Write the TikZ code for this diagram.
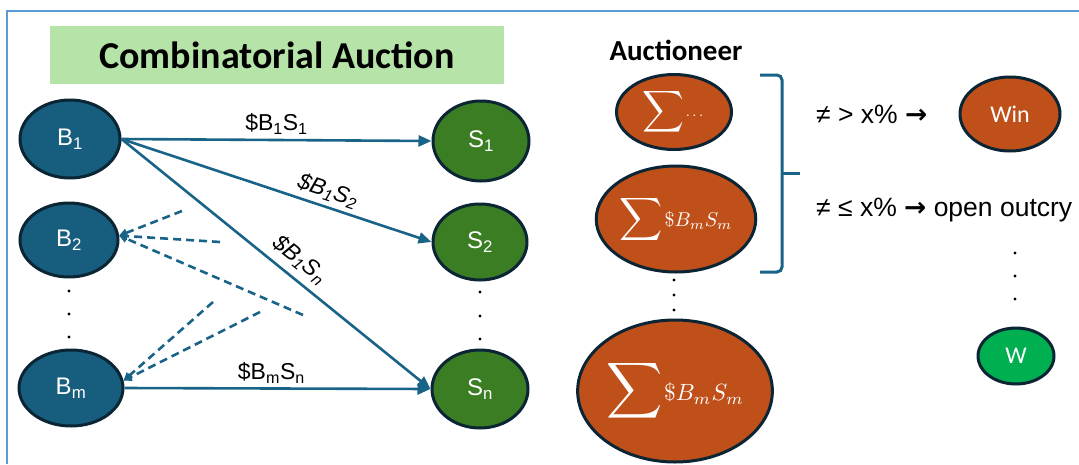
\documentclass[tikz,border=0pt]{standalone}
\usepackage{amsmath}
\usepackage{graphicx}
\usepackage[no-math]{fontspec}
\setmainfont{Liberation Sans}
\newfontfamily\calfont{Carlito}
\newfontfamily\arrfont{DejaVu Sans}
\usetikzlibrary{shapes.geometric,arrows.meta}
\definecolor{bblue}{HTML}{165D7E}
\definecolor{sgreen}{HTML}{3B7D23}
\definecolor{aorange}{HTML}{C0501A}
\definecolor{wgreen}{HTML}{00B050}
\definecolor{outl}{HTML}{0B2535}
\definecolor{acol}{HTML}{1A6388}
\definecolor{titlegreen}{HTML}{B5E3A8}
\definecolor{framecol}{HTML}{5B9BD5}
\newcommand{\sbx}[1]{\textsubscript{#1}}
\newcommand{\bsig}[1]{\scalebox{#1}{$\displaystyle\sum$}}
\newcommand{\bmath}[2]{\scalebox{#1}{$#2$}}
\newcommand{\rarr}{{\arrfont\bfseries →}}
\begin{document}
\begin{tikzpicture}[x=1pt,y=-1pt,
  oval/.style={ellipse, draw=outl, line width=3pt, inner sep=0pt, text=white},
  bnode/.style={oval, fill=bblue, font=\fontsize{24}{28}\selectfont},
  snode/.style={oval, fill=sgreen, font=\fontsize{24}{28}\selectfont},
  anode/.style={oval, fill=aorange},
  wnode/.style={oval, fill=wgreen, font=\calfont\fontsize{24}{28}\selectfont},
  conn/.style={draw=acol, line width=2.6pt, -{Triangle[length=13pt,width=11pt]}},
  dconn/.style={draw=acol, line width=2.6pt, dash pattern=on 8pt off 5pt, -{Triangle[length=8pt,width=8pt]}},
  elab/.style={font=\fontsize{23}{26}\selectfont, text=black, inner sep=3pt},
  ilab/.style={elab, font=\fontsize{23}{26}\selectfont\itshape},
  vdot/.style={circle, fill=black, minimum size=3.4pt, inner sep=0pt},
  cond/.style={font=\fontsize{26.5}{30}\selectfont, text=black, inner sep=0pt, anchor=west},
  brk/.style={draw=acol, line width=3pt, rounded corners=5pt},
  framel/.style={draw=framecol, line width=2pt}
]
\useasboundingbox (0,0) rectangle (1079,464);
% frame
\draw[framel] (7,464) -- (7,11) -- (1079,11);
% title
\node[fill=titlegreen, minimum width=454pt, minimum height=58pt, inner sep=0pt,
      font=\calfont\bfseries\fontsize{38}{44}\selectfont] (title) at (277,55) {Combinatorial Auction};
% buyers
\node[bnode, minimum width=100pt, minimum height=78pt] (B1) at (70,139) {B\sbx{1}};
\node[bnode, minimum width=98pt, minimum height=74pt] (B2) at (69,240) {B\sbx{2}};
\node[bnode, minimum width=104pt, minimum height=76pt] (Bm) at (71,388) {B\sbx{m}};
% sellers
\node[snode, minimum width=96pt, minimum height=80pt] (S1) at (481,141) {S\sbx{1}};
\node[snode, minimum width=94pt, minimum height=76pt] (S2) at (480,242) {S\sbx{2}};
\node[snode, minimum width=96pt, minimum height=78pt] (Sn) at (480,389) {S\sbx{n}};
% dots
\node[vdot] (bd1) at (69,291) {};
\node[vdot] (bd2) at (69,314) {};
\node[vdot] (bd3) at (69,337) {};
\node[vdot] (sd1) at (480,292) {};
\node[vdot] (sd2) at (480,316) {};
\node[vdot] (sd3) at (480,339) {};
% solid arrows
\draw[conn] (B1.east) -- node[elab, above=1pt, pos=0.5] {\$B\sbx{1}S\sbx{1}} (S1.west);
\draw[conn] (B1.east) -- node[ilab, sloped, above=1pt, pos=0.65] {\$B\sbx{1}S\sbx{2}} (S2.west);
\draw[conn] (B1.east) -- node[ilab, sloped, above=4pt, pos=0.54] {\$B\sbx{1}S\sbx{n}} (Sn.west);
\draw[conn] (Bm.east) -- node[elab, above=1pt, pos=0.48] {\$B\sbx{m}S\sbx{n}} (Sn.west);
% dashed arrows
\coordinate (d1) at (182,211);
\coordinate (d2) at (220,242);
\coordinate (d3) at (303,315);
\coordinate (d4) at (213,302);
\coordinate (d5) at (260,312);
\draw[dconn] (d1) -- (B2.5);
\draw[dconn] (d2) -- (B2.5);
\draw[dconn] (d3) -- (B2.5);
\draw[dconn] (d4) -- (Bm.8);
\draw[dconn] (d5) -- (Bm.8);
% auctioneer
\node[font=\calfont\bfseries\fontsize{29}{32}\selectfont, text=black] (auc) at (676,50) {Auctioneer};
\node[anode, minimum width=115pt, minimum height=75pt] (E1) at (674,112)
  {\bsig{2.9}\,\bmath{1.5}{\cdots}};
\node[anode, minimum width=153pt, minimum height=106pt] (E2) at (676,219)
  {\bsig{3}\,\bmath{2.0}{\$B_mS_m}};
\node[vdot] (ad1) at (674,280) {};
\node[vdot] (ad2) at (674,295) {};
\node[vdot] (ad3) at (674,310) {};
\node[anode, minimum width=166pt, minimum height=142pt] (E3) at (675,391)
  {\bsig{3.9}\,\bmath{2.35}{\$B_mS_m}};
% bracket
\draw[brk] (760,75) -- (782,75) -- (782,272) -- (760,272);
\draw[brk] (782,173) -- (800,173);
% outcomes
\node[cond] (c1) at (816,114) {≠ > x\% \rarr};
\node[cond] (c2) at (816,210) {≠ ≤ x\% \rarr{} open outcry};
\node[anode, minimum width=100pt, minimum height=74pt, font=\calfont\fontsize{24}{28}\selectfont] (win) at (1010,114) {Win};
\node[vdot] (rd1) at (1015,253) {};
\node[vdot] (rd2) at (1015,276) {};
\node[vdot] (rd3) at (1015,299) {};
\node[wnode, minimum width=76pt, minimum height=56pt] (w) at (1016,356) {W};
\end{tikzpicture}
\end{document}
